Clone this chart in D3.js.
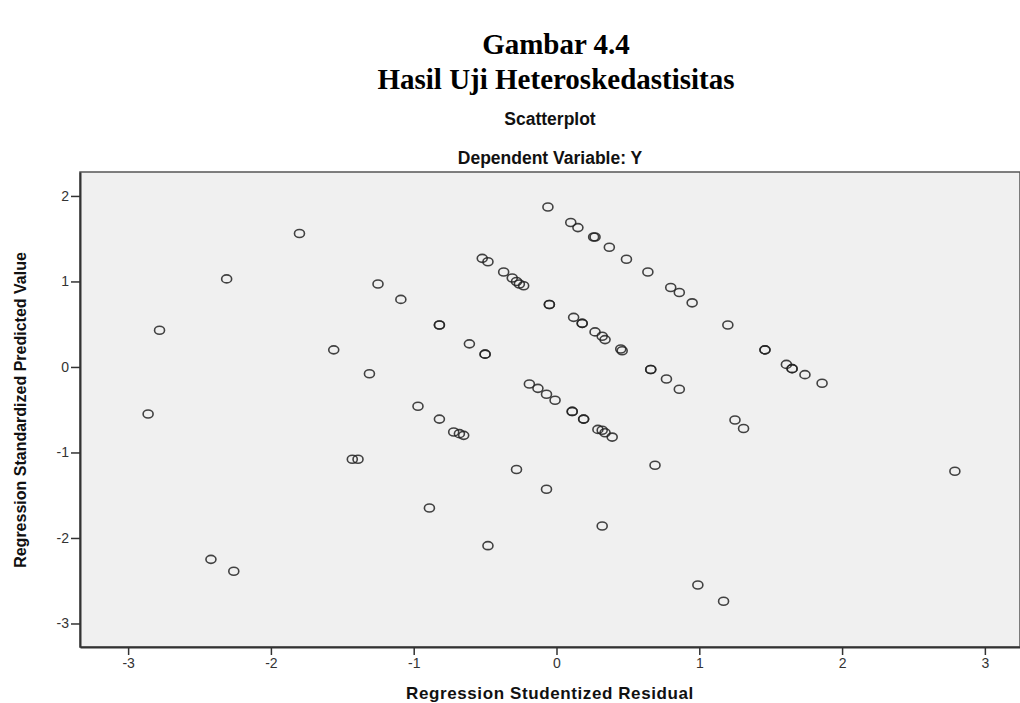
<!DOCTYPE html>
<html>
<head>
<meta charset="utf-8">
<script src="https://cdn.jsdelivr.net/npm/d3@7"></script>
<style>
  body { margin: 0; background: #fff; }
  .caption { font-family: "Liberation Serif", "Times New Roman", serif; font-weight: bold; font-size: 29px; fill: #000; }
  .ctitle { font-family: "Liberation Sans", Arial, sans-serif; font-weight: bold; font-size: 17.5px; fill: #111; }
  .alabel { font-family: "Liberation Sans", Arial, sans-serif; font-weight: bold; font-size: 17px; fill: #111; }
</style>
</head>
<body>
<div id="chart"></div>
<script>
// Regression Studentized Residual (x) / Regression Standardized Predicted Value (y)
var residual = [
  -0.06, 0.10, 0.15, 0.26, 0.27, 0.37, 0.49, 0.64, 0.80, 0.86, 0.95, 1.20, 1.46, 1.46, 1.61, 1.65, 1.65, 1.74, 1.86, 2.79,
  -1.80, -1.25, -1.09, -0.82, -0.82, -0.61, -0.50, -0.50,
  -0.52, -0.48, -0.37, -0.31, -0.28, -0.26, -0.23, -0.05, -0.05, 0.12, 0.18, 0.18, 0.27, 0.32, 0.34, 0.45, 0.46, 0.66, 0.66, 0.77, 0.86, 1.25, 1.31,
  -0.19, -0.13, -0.07, -0.01, 0.11, 0.11, 0.19, 0.19, 0.29, 0.32, 0.34, 0.39, 0.69,
  -2.31, -2.78, -1.56, -2.86, -1.31, -0.97, -0.82, -0.72, -0.68, -0.65, -1.43, -1.39, -0.28, -0.07, -0.89, 0.32, -0.48, 0.99, 1.17, -2.42, -2.26
];
var predicted = [
  1.87, 1.69, 1.63, 1.52, 1.52, 1.40, 1.26, 1.11, 0.93, 0.87, 0.75, 0.49, 0.20, 0.20, 0.03, -0.02, -0.02, -0.09, -0.19, -1.22,
  1.56, 0.97, 0.79, 0.49, 0.49, 0.27, 0.15, 0.15,
  1.27, 1.23, 1.11, 1.04, 1.00, 0.97, 0.95, 0.73, 0.73, 0.58, 0.51, 0.51, 0.41, 0.36, 0.32, 0.21, 0.19, -0.03, -0.03, -0.14, -0.26, -0.62, -0.72,
  -0.20, -0.25, -0.32, -0.39, -0.52, -0.52, -0.61, -0.61, -0.73, -0.74, -0.77, -0.82, -1.15,
  1.03, 0.43, 0.20, -0.55, -0.08, -0.46, -0.61, -0.76, -0.78, -0.80, -1.08, -1.08, -1.20, -1.43, -1.65, -1.86, -2.09, -2.55, -2.74, -2.25, -2.39
];
var xTicks = [-3, -2, -1, 0, 1, 2, 3];
var yTicks = [-3, -2, -1, 0, 1, 2];

var width = 1020, height = 703;
var plotL = 80, plotR = 1020, plotT = 172, plotB = 647;

var svg = d3.select("#chart").append("svg").attr("width", width).attr("height", height);

var x = d3.scaleLinear().domain([-3.337, 3.246]).range([plotL, plotR]);
var y = d3.scaleLinear().domain([-3.275, 2.28]).range([plotB, plotT]);

// captions
svg.append("text").attr("class", "caption").attr("x", 556).attr("y", 54).attr("text-anchor", "middle").text("Gambar 4.4");
svg.append("text").attr("class", "caption").attr("x", 556).attr("y", 89).attr("text-anchor", "middle").text("Hasil Uji Heteroskedastisitas");
svg.append("text").attr("class", "ctitle").attr("x", 550).attr("y", 125).attr("text-anchor", "middle").text("Scatterplot");
svg.append("text").attr("class", "ctitle").attr("x", 550).attr("y", 164).attr("text-anchor", "middle").text("Dependent Variable: Y");

// plot background
svg.append("rect").attr("x", plotL).attr("y", plotT).attr("width", plotR - plotL).attr("height", plotB - plotT)
  .style("fill", "#f0f0f0").style("stroke", "#555").style("stroke-width", 1.5);

// axes
var gx = svg.append("g").attr("transform", "translate(0," + plotB + ")")
  .call(d3.axisBottom(x).tickValues(xTicks).tickSize(8).tickPadding(3).tickSizeOuter(0).tickFormat(d3.format("d")));
var gy = svg.append("g").attr("transform", "translate(" + plotL + ",0)")
  .call(d3.axisLeft(y).tickValues(yTicks).tickSize(9).tickPadding(2).tickSizeOuter(0).tickFormat(d3.format("d")));
[gx, gy].forEach(function(g){
  g.select(".domain").style("stroke", "#333").style("stroke-width", 2);
  g.selectAll(".tick line").style("stroke", "#333").style("stroke-width", 1.5);
  g.selectAll(".tick text").style("font-family", "'Liberation Sans', Arial, sans-serif")
    .style("font-size", "14px").style("fill", "#333")
    .text(function(d){ return d < 0 ? "-" + Math.abs(d) : d; });
});

// points
var pts = d3.range(residual.length).map(function(i){ return {r: residual[i], p: predicted[i]}; });
svg.append("g").selectAll("ellipse").data(pts).enter().append("ellipse")
  .attr("cx", function(d){ return x(d.r); })
  .attr("cy", function(d){ return y(d.p); })
  .attr("rx", 5).attr("ry", 4)
  .style("fill", "none").style("stroke", "#222").style("stroke-width", 1.6).style("stroke-opacity", 0.85);

// axis titles
svg.append("text").attr("class", "alabel").attr("x", 550).attr("y", 699).attr("text-anchor", "middle")
  .style("letter-spacing", "0.6px").text("Regression Studentized Residual");
svg.append("text").attr("class", "alabel").attr("transform", "translate(26,410) rotate(-90)")
  .attr("text-anchor", "middle").style("font-size", "16px").text("Regression Standardized Predicted Value");
</script>
</body>
</html>
